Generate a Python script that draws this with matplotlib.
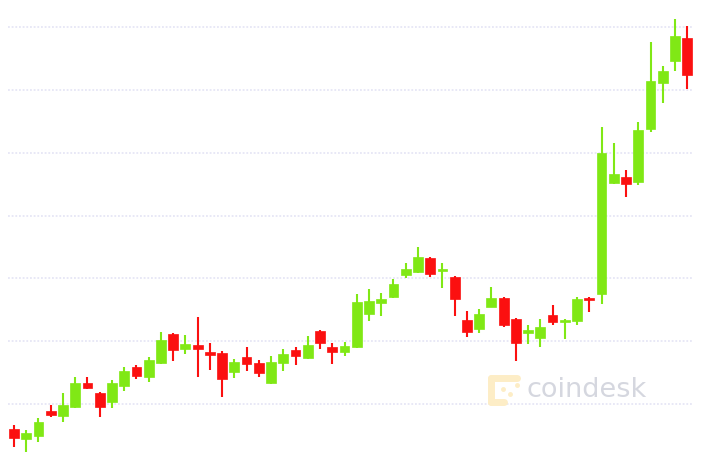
import matplotlib.pyplot as plt
import numpy as np
from matplotlib.lines import Line2D

# OHLC per period (left to right)
opens = [17600, 17440, 17490, 17890, 17810, 17950, 18330, 18170, 18030, 18290,
         18590, 18430, 18650, 19110, 18880, 18940, 18830, 18810, 18510, 18750,
         18650, 18330, 18650, 18860, 18730, 19160, 18910, 18830, 18910, 19430,
         19610, 19700, 20050, 20100, 20320, 20120, 20020, 19340, 19190, 19540,
         19690, 19350, 19130, 19050, 19420, 19300, 19320, 19690, 19750, 21520,
         21610, 21530, 22380, 23110, 23460, 23830]
highs = [17670, 17590, 17780, 17980, 18180, 18430, 18430, 18190, 18380, 18590,
         18620, 18750, 19150, 19130, 19100, 19390, 18970, 18840, 18720, 18910,
         18700, 18760, 18880, 18910, 19080, 19180, 18970, 18990, 19750, 19830,
         19770, 19990, 20240, 20500, 20340, 20240, 20040, 19480, 19510, 19860,
         19700, 19370, 19260, 19350, 19580, 19350, 19700, 19700, 22410, 22150,
         21720, 22490, 23760, 23380, 24130, 24020]
lows = [17320, 17240, 17400, 17790, 17710, 17940, 18240, 17790, 17940, 18210,
        18400, 18350, 18640, 18680, 18800, 18430, 18540, 18110, 18410, 18530,
        18430, 18320, 18530, 18620, 18720, 18880, 18640, 18760, 18890, 19320,
        19400, 19690, 20000, 20090, 20020, 19850, 19400, 19070, 19130, 19540,
        19230, 18680, 18950, 18910, 19260, 19030, 19260, 19460, 19590, 21500,
        21290, 21480, 22330, 22790, 23300, 23010]
closes = [17460, 17540, 17710, 17820, 17980, 18330, 18250, 17950, 18330, 18530,
          18450, 18700, 19020, 18860, 18960, 18880, 18780, 18400, 18670, 18640,
          18490, 18670, 18800, 18760, 18940, 18970, 18830, 18920, 19620, 19640,
          19670, 19910, 20150, 20340, 20070, 20150, 19670, 19150, 19430, 19690,
          19260, 18970, 19180, 19230, 19300, 19340, 19670, 19660, 22000, 21660,
          21500, 22360, 23140, 23300, 23860, 23240]

grid_levels = [18000, 19000, 20000, 21000, 22000, 23000, 24000]

up_color = "#80e815"
down_color = "#fb1010"

opens = np.array(opens)
closes = np.array(closes)
highs = np.array(highs)
lows = np.array(lows)
idx = np.arange(len(opens))
colors = [up_color if c >= o else down_color for o, c in zip(opens, closes)]

fig = plt.figure(figsize=(7.1, 4.58), dpi=100)
ax = fig.add_axes([8 / 710, 0, 685 / 710, 1])

# Gridlines
ax.set_yticks(grid_levels)
ax.grid(axis="y", color="#e2e2f4", linestyle=(0, (1.2, 1.2)), linewidth=1.1, zorder=0)
ax.set_xticks([])
ax.tick_params(left=False, labelleft=False)
for s in ax.spines.values():
    s.set_visible(False)

# Wicks
ax.vlines(idx, lows, highs, colors=colors, linewidth=1.5, zorder=3)

# Bodies
bottoms = np.minimum(opens, closes)
heights = np.maximum(np.abs(closes - opens), 25)
ax.bar(idx, heights, bottom=bottoms, width=0.8, color=colors,
       edgecolor=colors, linewidth=0.5, zorder=4)

ax.set_xlim(-0.49, 55.47)
ax.set_ylim(17141, 24430)

# Watermark
logo = "#fdedc6"
for xs, ys in [((491, 517), (378, 378)), ((491, 491), (378, 402)),
               ((491, 504), (402, 402))]:
    fig.add_artist(Line2D([x / 710 for x in xs], [(458 - y) / 458 for y in ys],
                          color=logo, linewidth=5, solid_capstyle="round"))
for px, py in [(503, 389), (510, 394), (517, 385)]:
    fig.add_artist(Line2D([px / 710], [(458 - py) / 458], marker="o",
                          markersize=2.5, color=logo, linestyle="none"))
fig.text(526 / 710, (458 - 397) / 458, "coindesk", fontsize=19.5,
         color="#d5d7df", va="baseline", ha="left", family="DejaVu Sans")

fig.savefig("out.png", dpi=100)
plt.close()
